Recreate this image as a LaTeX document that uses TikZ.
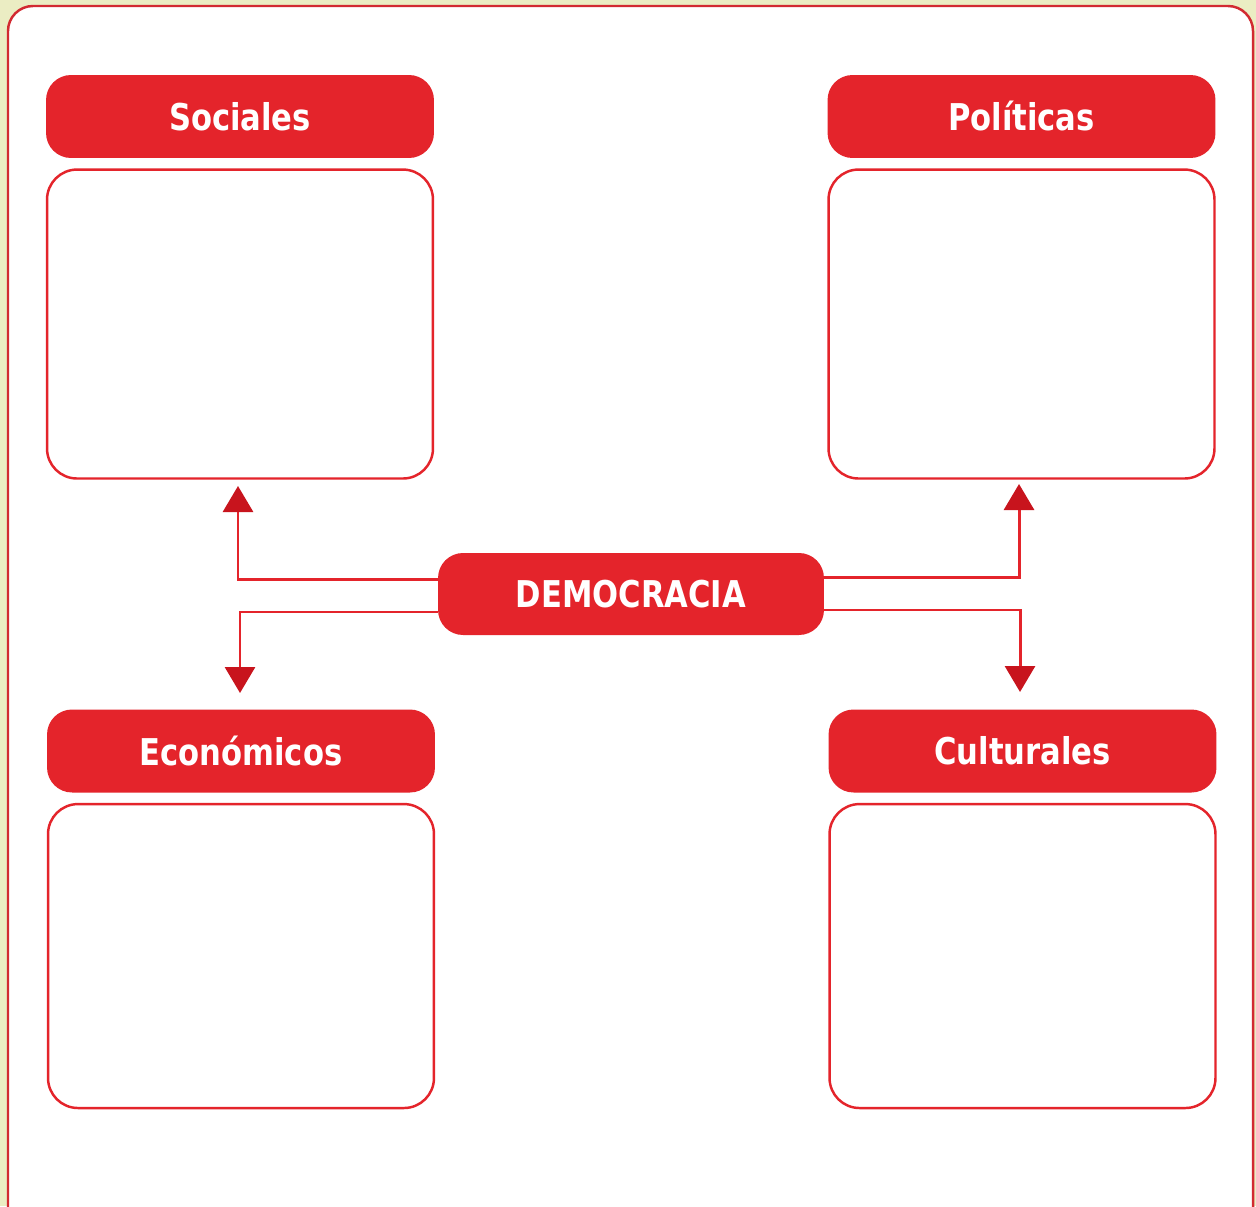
\documentclass[tikz,border=0pt]{standalone}
\usepackage{fontspec}
\setmainfont{DejaVu Sans}
\newfontfamily\headfont[FakeStretch=0.83]{DejaVu Sans}
\usetikzlibrary{positioning,arrows.meta}
\definecolor{rojo}{HTML}{E4242B}
\definecolor{rojoosc}{HTML}{C8141D}
\definecolor{borde}{HTML}{D22A31}
\definecolor{fondo}{HTML}{EBEDC3}

\begin{document}
\begin{tikzpicture}[x=0.02cm,y=-0.02cm,
  titulo/.style={rectangle,rounded corners=0.5cm,fill=rojo,text=white,minimum width=7.76cm,minimum height=1.66cm,inner sep=0pt,font=\headfont\bfseries\fontsize{21}{24}\selectfont},
  caja/.style={rectangle,rounded corners=0.6cm,draw=rojo,line width=1.4pt,fill=white,minimum width=7.72cm,minimum height=6.08cm,below=0.2cm of #1},
  flecha/.style={draw=rojo,line width=1.7pt,-{Triangle[width=0.6cm,length=0.52cm,color=rojoosc]}}]
\fill [fondo] (0,0) rectangle (1256,1206);
\useasboundingbox (0,0) rectangle (1256,1206);
\clip (0,0) rectangle (1256,1206);
\draw [borde,line width=1.4pt,fill=white,rounded corners=0.5cm] (8,6) rectangle (1253,1240);
% cuatro bloques
\node at (240,116.5) [titulo] (soc) {Sociales};
\node [caja=soc,minimum height=6.18cm] (socbox) {};
\node at (1021.5,116.5) [titulo] (pol) {Políticas};
\node [caja=pol,minimum height=6.18cm] (polbox) {};
\node at (241,751) [titulo] (eco) {Económicos};
\node [caja=eco] (ecobox) {};
\node at (1022.5,751) [titulo] (cul) {Culturales};
\node [caja=cul] (culbox) {};
% centro
\node at (631,594) [titulo,minimum width=7.72cm,minimum height=1.64cm] (dem) {DEMOCRACIA};
\coordinate (socend) at (238,486);
\coordinate (polend) at (1019,484);
\coordinate (ecoend) at (240,693);
\coordinate (culend) at (1020,692);
\draw [flecha] ([yshift=0.3cm]dem.west) -| (socend);
\draw [flecha] ([yshift=-0.36cm]dem.west) -| (ecoend);
\draw [flecha] ([yshift=0.34cm]dem.east) -| (polend);
\draw [flecha] ([yshift=-0.32cm]dem.east) -| (culend);
\end{tikzpicture}
\end{document}
